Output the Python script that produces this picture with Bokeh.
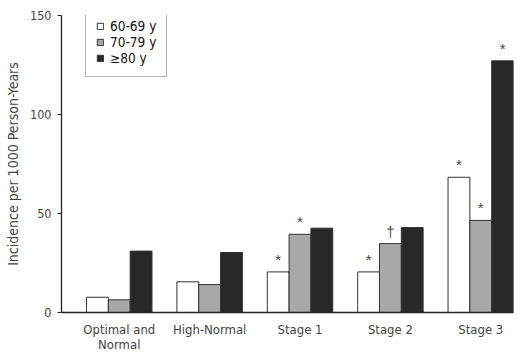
from bokeh.plotting import figure
from bokeh.models import ColumnDataSource, Range1d, FixedTicker, Legend, LegendItem
from bokeh.core.properties import value
from bokeh.embed import file_html
from bokeh.resources import INLINE

categories = ["Optimal and\nNormal", "High-Normal", "Stage 1", "Stage 2", "Stage 3"]
series_names = ["60-69 y", "70-79 y", "\u226580 y"]
age_60_69 = [7.7, 15.5, 20.5, 20.5, 68.3]
age_70_79 = [6.4, 14.1, 39.5, 34.8, 46.5]
age_80_up = [31.0, 30.3, 42.6, 42.9, 127.1]
marks_60_69 = ["", "", "*", "*", "*"]
marks_70_79 = ["", "", "*", "\u2020", "*"]
marks_80_up = ["", "", "", "", "*"]
y_ticks = [0, 50, 100, 150]

FONT = "DejaVu Sans Condensed, Liberation Sans"
colors = ["#ffffff", "#a8a8a8", "#282828"]
bar_w = 0.2415
offsets = [-bar_w, 0.0, bar_w]

p = figure(frame_width=452, frame_height=297, output_backend="svg", toolbar_location=None,
           x_range=Range1d(0.361, 5.362), y_range=Range1d(0, 150),
           min_border_left=61, min_border_right=7, min_border_top=15, min_border_bottom=40)
p.outline_line_color = None
p.grid.visible = False
p.background_fill_color = "white"

xs = list(range(1, len(categories) + 1))
renderers = []
for vals, marks, off, col in zip([age_60_69, age_70_79, age_80_up],
                                 [marks_60_69, marks_70_79, marks_80_up], offsets, colors):
    src = ColumnDataSource(dict(x=[x + off for x in xs], top=vals, mark=marks))
    r = p.vbar(x="x", top="top", width=bar_w, bottom=0, source=src,
               fill_color=col, line_color="#333333", line_width=1)
    renderers.append(r)
    p.text(x="x", y="top", text="mark", source=src, text_align="center",
           text_baseline="bottom", y_offset=-4, text_font=value("Liberation Sans"),
           text_font_size="15px", text_color="#444444")

legend = Legend(items=[LegendItem(label=n, renderers=[r]) for n, r in zip(series_names, renderers)],
                location=(24, 235), orientation="vertical")
legend.label_text_font = FONT
legend.label_text_font_size = "13.5px"
legend.label_text_color = "#111111"
legend.glyph_width = 8
legend.glyph_height = 8
legend.label_standoff = 6
legend.label_height = 14
legend.label_width = 44
legend.spacing = 0
legend.padding = 10
legend.margin = 0
legend.border_line_color = "#666666"
legend.border_line_width = 1
legend.background_fill_alpha = 1
p.add_layout(legend, "center")

# y axis
p.yaxis.ticker = FixedTicker(ticks=y_ticks)
p.yaxis.axis_label = "Incidence per 1000 Person-Years"
p.yaxis.axis_label_text_font = FONT
p.yaxis.axis_label_text_font_size = "14px"
p.yaxis.axis_label_text_font_style = "normal"
p.yaxis.axis_label_standoff = 6
p.yaxis.major_label_text_font = FONT
p.yaxis.major_label_text_font_size = "12.5px"
p.yaxis.major_label_standoff = 6
p.yaxis.major_tick_out = 4
p.yaxis.major_tick_in = 0
p.yaxis.minor_tick_line_color = None
p.yaxis.axis_line_color = "#222222"
p.yaxis.major_tick_line_color = "#222222"
p.yaxis.axis_line_width = 1.3

# x axis
p.xaxis.ticker = FixedTicker(ticks=xs)
p.xaxis.major_label_overrides = {x: c for x, c in zip(xs, categories)}
p.xaxis.major_label_text_font = FONT
p.xaxis.major_label_text_font_size = "13px"
p.xaxis.major_label_text_line_height = 1.0
p.xaxis.major_label_standoff = 3
p.xaxis.major_tick_line_color = None
p.xaxis.minor_tick_line_color = None
p.xaxis.axis_line_color = "#222222"
p.xaxis.axis_line_width = 1.3

open("out.html", "w").write(file_html(p, INLINE))
